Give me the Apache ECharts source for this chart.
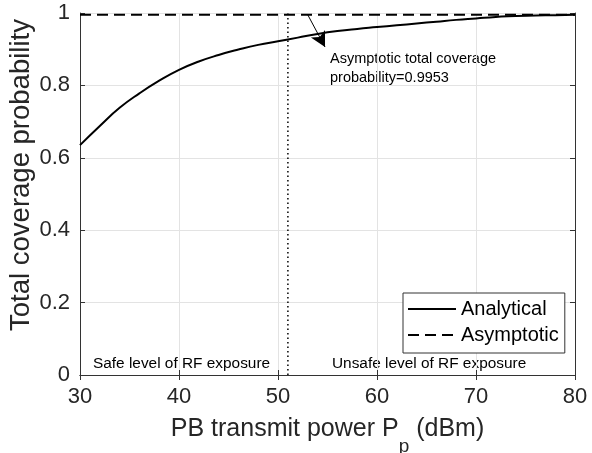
<!DOCTYPE html>
<html>
<head>
<meta charset="utf-8">
<script src="https://cdn.jsdelivr.net/npm/echarts@6/dist/echarts.min.js"></script>
<style>
  html, body { margin: 0; padding: 0; background: #fff; }
  #chart { width: 592px; height: 453px; }
</style>
</head>
<body>
<div id="chart"></div>
<script>
// 发射功率 (dBm)
const power = [30, 32, 34, 36, 38, 40, 42, 44, 46, 48, 50, 52, 54, 56, 58, 60, 62, 64, 66, 68, 70, 72, 74, 76, 78, 80];
// 总覆盖概率 (解析)
const coverage = [0.635, 0.688, 0.738, 0.778, 0.813, 0.843, 0.866, 0.884, 0.899, 0.912, 0.922, 0.932, 0.942, 0.95, 0.956, 0.961, 0.966, 0.971, 0.976, 0.981, 0.985, 0.989, 0.992, 0.993, 0.994, 0.995];
// 渐近值
const asymptoteX = [30, 80];
const asymptoteY = [0.9953, 0.9953];
// 安全/不安全分界
const safeLimit = [51, 51];
const safeLimitY = [0, 1];
// 注释箭头
const arrowX = [53.0, 54.75];
const arrowY = [0.9953, 0.906];
// 刻度
const xTicks = [30, 40, 50, 60, 70, 80];
const yTicks = [0, 0.2, 0.4, 0.6, 0.8, 1];

const FONT = "'Liberation Sans', Arial, Helvetica, sans-serif";
const AXIS_COLOR = "#333";
const GRID_COLOR = "#e3e3e3";

const zip = (xs, ys) => xs.map((x, i) => [x, ys[i]]);

const myChart = echarts.init(document.querySelector("#chart"));

const xBase = {
  type: "value",
  min: xTicks[0],
  max: xTicks[xTicks.length - 1],
  interval: xTicks[1] - xTicks[0],
};
const yBase = {
  type: "value",
  min: yTicks[0],
  max: yTicks[yTicks.length - 1],
  interval: yTicks[1] - yTicks[0],
};

const option = {
  animation: false,
  backgroundColor: "#fff",
  textStyle: { fontFamily: FONT },
  grid: { left: 80, right: 17, top: 13, bottom: 78, outerBoundsMode: "none", containLabel: false },
  xAxis: [
    {
      ...xBase,
      position: "bottom",
      name: "PB transmit power P{sub|p} (dBm)",
      nameLocation: "middle",
      nameGap: 28,
      nameTextStyle: {
        fontSize: 25,
        color: "#262626",
        fontFamily: FONT,
        rich: {
          sub: { fontSize: 19, color: "#262626", fontFamily: FONT, padding: [34, 0, 0, 0] },
        },
      },
      axisLine: { lineStyle: { color: AXIS_COLOR, width: 1 } },
      axisTick: { inside: true, length: 5, lineStyle: { color: AXIS_COLOR } },
      axisLabel: { fontSize: 22, color: "#262626", margin: 11, fontFamily: FONT },
      splitLine: { show: true, lineStyle: { color: GRID_COLOR, width: 1 } },
    },
    {
      ...xBase,
      position: "top",
      axisLine: { show: true, lineStyle: { color: AXIS_COLOR, width: 1 } },
      axisTick: { inside: true, length: 5, lineStyle: { color: AXIS_COLOR } },
      axisLabel: { show: false },
      splitLine: { show: false },
    },
  ],
  yAxis: [
    {
      ...yBase,
      position: "left",
      name: "Total coverage probability",
      nameLocation: "middle",
      nameGap: 45,
      nameMoveOverlap: false,
      nameTextStyle: { fontSize: 27.5, color: "#262626", fontFamily: FONT, padding: [0, 0, 0, 38] },
      axisLine: { show: true, lineStyle: { color: AXIS_COLOR, width: 1 } },
      axisTick: { show: true, inside: true, length: 5, lineStyle: { color: AXIS_COLOR } },
      axisLabel: { fontSize: 22, color: "#262626", margin: 10, fontFamily: FONT },
      splitLine: { show: true, lineStyle: { color: GRID_COLOR, width: 1 } },
    },
    {
      ...yBase,
      position: "right",
      axisLine: { show: true, lineStyle: { color: AXIS_COLOR, width: 1 } },
      axisTick: { show: true, inside: true, length: 5, lineStyle: { color: AXIS_COLOR } },
      axisLabel: { show: false },
      splitLine: { show: false },
    },
  ],
  legend: {
    data: ["Analytical", "Asymptotic"],
    orient: "vertical",
    left: 403,
    top: 293,
    itemWidth: 48,
    itemHeight: 14,
    itemGap: 6,
    padding: [6, 6, 8, 4],
    borderColor: AXIS_COLOR,
    borderWidth: 1,
    backgroundColor: "#fff",
    itemStyle: { opacity: 0 },
    textStyle: { fontSize: 20, color: "#000", fontFamily: FONT },
  },
  series: [
    {
      name: "Analytical",
      type: "line",
      data: zip(power, coverage),
      smooth: true,
      symbol: "none",
      lineStyle: { color: "#000", width: 2 },
      itemStyle: { color: "#000" },
      z: 5,
    },
    {
      name: "Asymptotic",
      type: "line",
      data: zip(asymptoteX, asymptoteY),
      symbol: "none",
      lineStyle: { color: "#000", width: 2, type: [11, 6] },
      itemStyle: { color: "#000" },
      z: 4,
    },
    {
      name: "limit",
      type: "line",
      data: zip(safeLimit, safeLimitY),
      symbol: "none",
      lineStyle: { color: "#000", width: 1.5, type: [1.5, 3] },
      z: 3,
    },
    {
      name: "arrow",
      type: "line",
      data: [],
      markLine: {
        silent: true,
        symbol: ["none", "arrow"],
        symbolSize: [12, 15],
        label: { show: false },
        lineStyle: { color: "#000", width: 1, type: "solid" },
        data: [[{ coord: zip(arrowX, arrowY)[0] }, { coord: zip(arrowX, arrowY)[1] }]],
      },
    },
  ],
  graphic: [
    {
      type: "text",
      top: 49,
      left: 330,
      style: {
        text: "Asymptotic total coverage\nprobability=0.9953",
        fontSize: 14.5,
        lineHeight: 19,
        fill: "#000",
        fontFamily: FONT,
      },
    },
    {
      type: "text",
      left: 93,
      top: 356,
      style: { text: "Safe level of RF exposure", fontSize: 15.4, fill: "#000", fontFamily: FONT },
    },
    {
      type: "text",
      left: 332,
      top: 356,
      style: { text: "Unsafe level of RF exposure", fontSize: 15.4, fill: "#000", fontFamily: FONT },
    },
  ],
};

myChart.setOption(option);
</script>
</body>
</html>
